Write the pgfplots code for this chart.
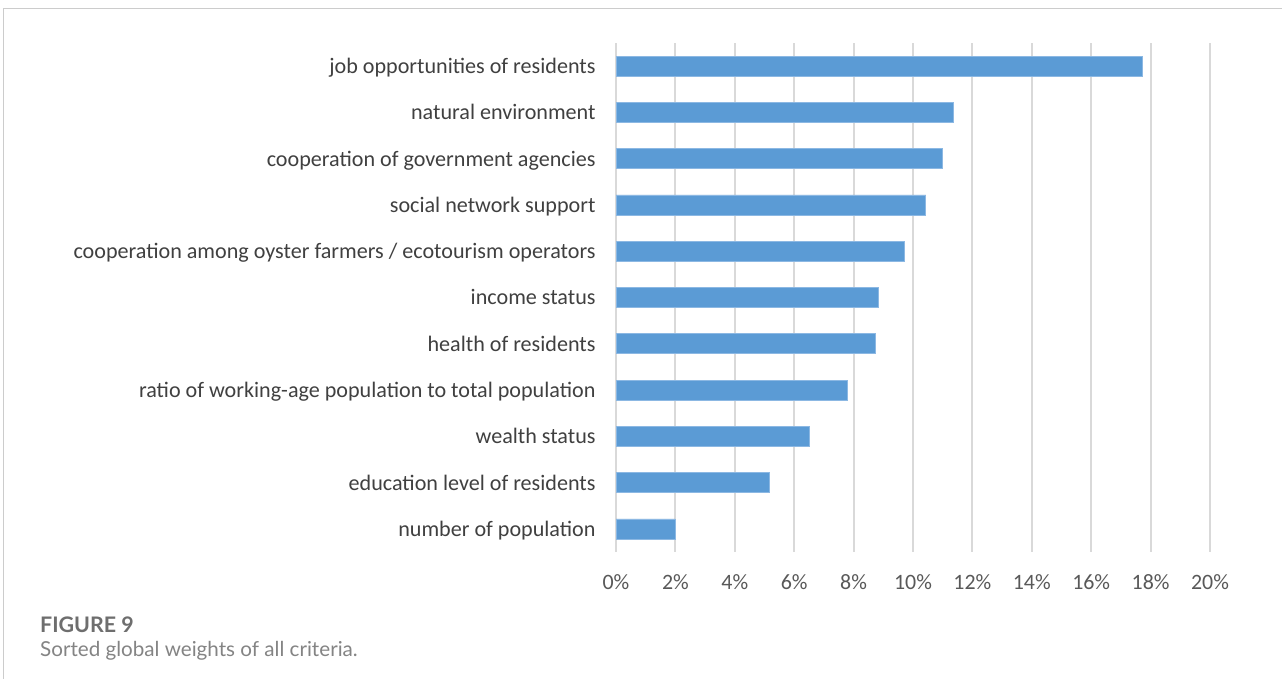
\documentclass[border=0pt]{standalone}
\usepackage{fontspec}
\setmainfont{Carlito}
\newfontfamily\capfont{Lato}
\usepackage{pgfplots}
\pgfplotsset{compat=1.18}
\definecolor{barblue}{HTML}{5B9BD5}
\definecolor{baredge}{HTML}{8CB8E3}
\definecolor{gridgray}{HTML}{D9D9D9}
\definecolor{txt}{HTML}{404040}
\definecolor{ticktxt}{HTML}{595959}
\definecolor{capgray}{HTML}{6E6E6E}
\definecolor{framegray}{HTML}{CCCCCC}
\begin{document}
\begin{tikzpicture}[x=1bp,y=1bp]
\path[use as bounding box, fill=white] (0,0) rectangle (1282,679);
\draw[color=framegray, line width=1bp] (3.5,0) -- (3.5,670) -- (1282,670);
\begin{axis}[
  at={(616bp,127bp)}, anchor=south west,
  scale only axis, width=594bp, height=509bp,
  xmin=0, xmax=20, ymin=-0.5, ymax=10.5,
  axis y line*=left, axis x line*=bottom,
  axis line style={-},
  x axis line style={draw=none},
  y axis line style={color=gridgray, line width=1.5bp},
  xtick={0,2,...,20},
  /pgf/number format/assume math mode=true,
  xticklabel={\pgfmathprintnumber{\tick}\%},
  xtick style={draw=none},
  xmajorgrids,
  major x grid style={color=gridgray, line width=2bp},
  ytick={0,...,10},
  ytick style={draw=none},
  yticklabels={number of population,education level of residents,wealth status,ratio of working-age population to total population,health of residents,income status,cooperation among oyster farmers / ecotourism operators,social network support,cooperation of government agencies,natural environment,job opportunities of residents},
  minor ytick={-0.5,0.5,...,10.5},
  tick align=outside,
  minor tick length=6bp,
  every minor tick/.append style={color=gridgray, line width=1.5bp},
  xticklabel style={font=\fontsize{22}{24}\selectfont, inner sep=0pt, color=ticktxt, anchor=north, yshift=-18bp},
  yticklabel style={font=\fontsize{22.2}{24}\selectfont, inner sep=0pt, color=txt, anchor=base east, xshift=-16bp, yshift=-7.5bp},
  xbar, bar width=20bp, bar shift=0pt,
]
\addplot[fill=barblue, draw=baredge, line width=0.6bp] coordinates {
(1.99,0) (5.15,1) (6.51,2) (7.80,3) (8.72,4) (8.83,5) (9.71,6) (10.43,7) (10.98,8) (11.37,9) (17.71,10)};
\end{axis}
\node[anchor=base west, inner sep=0pt, text=capgray, font=\capfont\bfseries\fontsize{21.5}{24}\selectfont] at (40,46) {FIGURE 9};
\node[anchor=base west, inner sep=0pt, text=capgray!85, font=\capfont\fontsize{20.7}{24}\selectfont] at (40,22) {Sorted global weights of all criteria.};
\end{tikzpicture}
\end{document}
